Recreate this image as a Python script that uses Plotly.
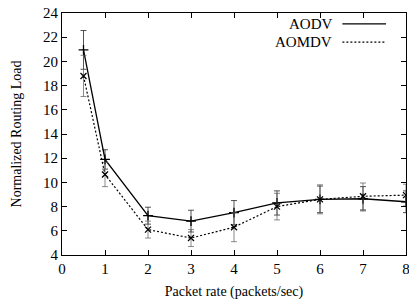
import plotly.graph_objects as go

x_vals = [0.5, 1, 2, 3, 4, 5, 6, 7, 8]
aodv = [20.95, 11.9, 7.25, 6.8, 7.5, 8.3, 8.6, 8.65, 8.4]
aodv_err = [1.6, 0.8, 0.7, 0.9, 1.0, 1.0, 1.1, 1.0, 0.9]
aomdv = [18.8, 10.65, 6.1, 5.4, 6.3, 8.0, 8.6, 8.85, 8.95]
aomdv_err = [1.7, 1.0, 0.7, 0.7, 1.2, 1.1, 1.2, 1.1, 0.9]

x_ticks = [0, 1, 2, 3, 4, 5, 6, 7, 8]
y_ticks = [4, 6, 8, 10, 12, 14, 16, 18, 20, 22, 24]

FONT = "Liberation Serif"

fig = go.Figure()
fig.add_trace(go.Scatter(
    x=x_vals, y=aodv, mode="lines+markers", name="AODV",
    line=dict(color="black", width=1.3),
    marker=dict(symbol="cross-thin", size=7, line=dict(color="black", width=1.3)),
    error_y=dict(type="data", array=aodv_err, color="rgba(40,40,40,0.8)", thickness=1, width=3),
))
fig.add_trace(go.Scatter(
    x=x_vals, y=aomdv, mode="lines+markers", name="AOMDV",
    line=dict(color="black", width=1.2, dash="2px,2px"),
    marker=dict(symbol="x-thin", size=6, line=dict(color="black", width=1.3)),
    error_y=dict(type="data", array=aomdv_err, color="rgba(90,90,90,0.7)", thickness=1, width=3),
))

legend_items = [("AODV", "solid", 0.955), ("AOMDV", "2px,2px", 0.88)]
for name, dash, yy in legend_items:
    fig.add_annotation(x=0.79, y=yy, xref="paper", yref="paper", text=name,
                       showarrow=False, xanchor="right", yanchor="middle",
                       font=dict(family=FONT, size=15, color="black"))
    fig.add_shape(type="line", xref="paper", yref="paper", x0=0.815, x1=0.942, y0=yy, y1=yy,
                  line=dict(color="black", width=1.2, dash=dash))

axis_common = dict(
    showline=True, linecolor="black", linewidth=1.2, mirror="ticks",
    ticks="inside", ticklen=5, tickcolor="black", showgrid=False, zeroline=False,
    tickfont=dict(family=FONT, size=15, color="black"), automargin=False,
)
fig.update_xaxes(range=[0, 8], tickvals=x_ticks, ticklabeloverflow="allow",
                 title=dict(text="Packet rate (packets/sec)", font=dict(family=FONT, size=14, color="black"), standoff=10),
                 **axis_common)
fig.update_yaxes(range=[4, 24], tickvals=y_ticks, ticklabeloverflow="allow",
                 title=dict(text="Normalized Routing Load", font=dict(family=FONT, size=14, color="black"), standoff=18),
                 **axis_common)

fig.update_layout(
    width=409, height=306,
    margin=dict(l=62, r=3, t=13, b=51),
    paper_bgcolor="white", plot_bgcolor="white",
    showlegend=False,
)
fig.write_html("out.html", config={"displayModeBar": False},
               post_script="document.body.style.margin='0px';document.body.style.overflow='hidden';")
